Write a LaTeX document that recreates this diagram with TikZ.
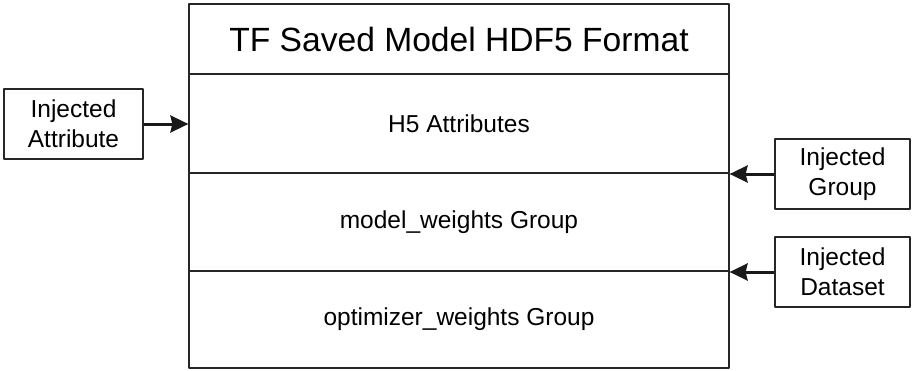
\documentclass[tikz,border=0pt]{standalone}
\usepackage{fontspec}
\setmainfont{Liberation Sans}
\usetikzlibrary{arrows.meta,calc}

\begin{document}
\begin{tikzpicture}[line width=1.2pt, line join=round, >={Stealth[length=18pt,width=17pt,inset=2pt]}, x=1pt, y=-1pt,
    part/.style={draw=black!85, minimum width=540pt, inner sep=0pt, font=\fontsize{24.5}{30}\selectfont},
    sidebox/.style={draw=black!85, minimum height=70pt, inner sep=0pt, align=center, font=\fontsize{24.5}{30}\selectfont},
    inject/.style={->, line width=3pt, draw=black!90}]
  \useasboundingbox (0,0) rectangle (914,370);
  % file layout
  \node[part, minimum height=98pt] (attrs) at (459,123.5) {H5 Attributes};
  \node[part, minimum height=98pt] (model) at (459,222) {model\_weights Group};
  \node[part, minimum height=97pt] (optim) at (459,319.5) {optimizer\_weights Group};
  \node[part, line width=2.2pt, minimum height=70pt, font=\fontsize{33.6}{40}\selectfont] (title) at (459,39) {TF Saved Model HDF5 Format};
  % injected pieces
  \node[sidebox, minimum width=139pt] (injattr) at (73.5,124) {Injected\\Attribute};
  \node[sidebox, minimum width=135pt] (injgroup) at (842.5,174) {Injected\\Group};
  \node[sidebox, minimum width=135pt] (injdata) at (842.5,272) {Injected\\Dataset};
  \draw[inject] (injattr.east) -- (injattr.east -| attrs.west);
  \draw[inject] (injgroup.west) -- (injgroup.west -| attrs.east);
  \draw[inject] (injdata.west) -- (injdata.west -| model.east);
\end{tikzpicture}
\end{document}
